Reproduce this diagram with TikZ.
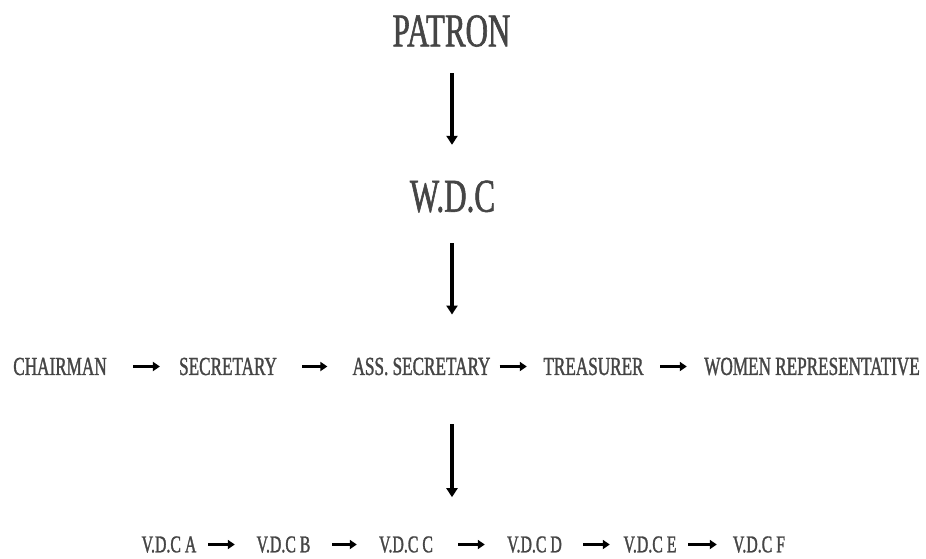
\documentclass[tikz,border=0pt]{standalone}
\usepackage{fontspec}
\usetikzlibrary{arrows.meta}
\newfontfamily\slab[FakeStretch=0.66,FakeBold=1.2]{Liberation Serif}
\definecolor{txt}{HTML}{454545}
\tikzset{
  lbl/.style={inner sep=0pt, text=txt, font=\slab\fontsize{#1}{#1}\selectfont},
  big/.style={lbl=47},
  mid/.style={lbl=26},
  small/.style={lbl=24},
  varrow/.style={line width=3.6pt, -{Triangle[length=9pt,width=11pt]}},
  harrow/.style={line width=3.6pt, -{Triangle[length=7pt,width=9pt]}}
}
\begin{document}
\begin{tikzpicture}[x=1pt,y=-1pt]
\fill[white] (0,0) rectangle (926,559);
\useasboundingbox (0,0) rectangle (926,559);
% top
\node[big, minimum width=123pt, minimum height=32pt] (patron) at (451.5,31) {PATRON};
\node[big, minimum width=89pt, minimum height=33pt] (wdc) at (452.5,196.5) {W.D.C};
% row 3
\node[mid, minimum width=96pt, minimum height=17pt] (chair) at (60,366.5) {CHAIRMAN};
\node[mid, minimum width=96pt, minimum height=17pt] (sec) at (228,366.5) {SECRETARY};
\node[mid, minimum width=137pt, minimum height=17pt] (ass) at (421.5,366.5) {ASS. SECRETARY};
\node[mid, minimum width=101pt, minimum height=17pt] (tre) at (593.5,366.5) {TREASURER};
\node[mid, minimum width=218pt, minimum height=17pt] (wom) at (812,366.5) {WOMEN REPRESENTATIVE};
% row 5
\node[small, minimum width=58pt, minimum height=15pt] (va) at (169,544.5) {V.D.C A};
\node[small, minimum width=57pt, minimum height=15pt] (vb) at (283.5,544.5) {V.D.C B};
\node[small, minimum width=58pt, minimum height=15pt] (vc) at (406,544.5) {V.D.C C};
\node[small, minimum width=55pt, minimum height=15pt] (vd) at (534.5,544.5) {V.D.C D};
\node[small, minimum width=56pt, minimum height=15pt] (ve) at (650,544.5) {V.D.C E};
\node[small, minimum width=58pt, minimum height=15pt] (vf) at (759,544.5) {V.D.C F};
% vertical arrows
\draw[varrow, shorten <=26pt, shorten >=35pt] (patron.south -| 452,0) -- (wdc.north -| 452,0);
\draw[varrow, shorten <=30pt, shorten >=43pt] (wdc.south -| 452,0) -- (ass.north -| 452,0);
\draw[varrow, shorten <=49pt, shorten >=39pt] (ass.south -| 452,0) -- (vc.north -| 452,0);
% row 3 arrows
\draw[harrow, shorten <=25pt, shorten >=19pt] (chair.east) -- (sec.west);
\draw[harrow, shorten <=25pt, shorten >=25pt] (sec.east) -- (ass.west);
\draw[harrow, shorten <=9pt, shorten >=16pt] (ass.east) -- (tre.west);
\draw[harrow, shorten <=16pt, shorten >=16pt] (tre.east) -- (wom.west);
% row 5 arrows
\draw[harrow, shorten <=10pt, shorten >=20pt] (va.east) -- (vb.west);
\draw[harrow, shorten <=20pt, shorten >=20pt] (vb.east) -- (vc.west);
\draw[harrow, shorten <=23pt, shorten >=22pt] (vc.east) -- (vd.west);
\draw[harrow, shorten <=21pt, shorten >=12pt] (vd.east) -- (ve.west);
\draw[harrow, shorten <=10pt, shorten >=13pt] (ve.east) -- (vf.west);
\end{tikzpicture}
\end{document}
